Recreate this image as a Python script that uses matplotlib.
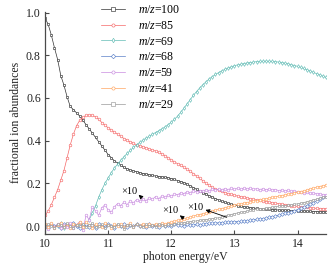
import numpy as np
import matplotlib
matplotlib.use("Agg")
import matplotlib.pyplot as plt

plt.rcParams['font.family'] = ['Liberation Serif', 'DejaVu Serif']
plt.rcParams['mathtext.fontset'] = 'custom'
plt.rcParams['mathtext.rm'] = 'Liberation Serif'
plt.rcParams['mathtext.it'] = 'Liberation Serif:italic'

# photon energy grid (eV)
energy = np.round(np.arange(10.0, 14.451, 0.05), 2)

labels = ["100", "85", "69", "68", "59", "41", "29"]

mz100 = [0.975, 0.945, 0.895, 0.835, 0.780, 0.705, 0.660, 0.605, 0.560, 0.545,
         0.530, 0.515, 0.495, 0.475, 0.455, 0.435, 0.415, 0.395, 0.375, 0.355,
         0.335, 0.320, 0.305, 0.295, 0.285, 0.275, 0.268, 0.262, 0.258, 0.254,
         0.250, 0.246, 0.243, 0.240, 0.237, 0.234, 0.232, 0.230, 0.228, 0.226,
         0.222, 0.218, 0.213, 0.208, 0.203, 0.196, 0.188, 0.180, 0.172, 0.165,
         0.157, 0.150, 0.142, 0.135, 0.128, 0.122, 0.116, 0.111, 0.106, 0.102,
         0.099, 0.096, 0.093, 0.090, 0.088, 0.086, 0.084, 0.083, 0.082, 0.080,
         0.079, 0.078, 0.077, 0.076, 0.075, 0.074, 0.074, 0.073, 0.072, 0.072,
         0.071, 0.070, 0.070, 0.069, 0.069, 0.068, 0.068, 0.067, 0.067, 0.066]

mz85 = [0.050, 0.070, 0.100, 0.135, 0.170, 0.215, 0.260, 0.320, 0.380, 0.430,
        0.470, 0.495, 0.510, 0.518, 0.520, 0.518, 0.512, 0.500, 0.485, 0.472,
        0.460, 0.450, 0.440, 0.430, 0.420, 0.410, 0.402, 0.394, 0.387, 0.381,
        0.376, 0.371, 0.366, 0.361, 0.356, 0.351, 0.345, 0.338, 0.330, 0.320,
        0.310, 0.300, 0.292, 0.284, 0.275, 0.266, 0.256, 0.245, 0.234, 0.223,
        0.212, 0.200, 0.190, 0.181, 0.174, 0.168, 0.162, 0.157, 0.152, 0.148,
        0.144, 0.140, 0.137, 0.134, 0.131, 0.128, 0.125, 0.122, 0.120, 0.117,
        0.114, 0.112, 0.109, 0.106, 0.104, 0.102, 0.100, 0.098, 0.096, 0.094,
        0.092, 0.090, 0.088, 0.087, 0.085, 0.084, 0.083, 0.082, 0.081, 0.080]

mz69 = [0.005, -0.010, 0.010, -0.005, 0.000, 0.012, -0.008, 0.004, -0.006, 0.008,
        0.002, 0.010, -0.004, 0.005, 0.030, 0.060, 0.095, 0.135, 0.170, 0.200,
        0.225, 0.250, 0.272, 0.290, 0.308, 0.324, 0.340, 0.354, 0.368, 0.380,
        0.392, 0.402, 0.412, 0.420, 0.430, 0.438, 0.446, 0.455, 0.464, 0.475,
        0.487, 0.500, 0.515, 0.533, 0.552, 0.572, 0.592, 0.612, 0.630, 0.647,
        0.662, 0.676, 0.689, 0.700, 0.710, 0.719, 0.727, 0.734, 0.740, 0.746,
        0.751, 0.755, 0.758, 0.761, 0.764, 0.766, 0.768, 0.770, 0.771, 0.772,
        0.772, 0.772, 0.771, 0.770, 0.768, 0.766, 0.763, 0.760, 0.756, 0.752,
        0.748, 0.743, 0.738, 0.732, 0.726, 0.720, 0.714, 0.708, 0.702, 0.696]

mz68 = [0.004, -0.008, 0.010, -0.002, 0.006, -0.010, 0.008, 0.000, -0.006, 0.012,
        0.002, -0.008, 0.006, 0.010, -0.004, 0.004, -0.010, 0.008, 0.002, -0.006,
        0.010, 0.000, -0.008, 0.006, 0.002, 0.010, -0.004, 0.006, -0.002, 0.008,
        0.000, 0.006, -0.006, 0.010, 0.002, 0.004, -0.004, 0.008, 0.002, 0.006,
        0.000, 0.008, 0.004, 0.006, 0.002, 0.008, 0.004, 0.006, 0.008, 0.006,
        0.008, 0.010, 0.012, 0.013, 0.014, 0.015, 0.016, 0.017, 0.018, 0.019,
        0.020, 0.021, 0.022, 0.023, 0.025, 0.027, 0.029, 0.031, 0.033, 0.035,
        0.038, 0.041, 0.044, 0.047, 0.051, 0.055, 0.059, 0.063, 0.067, 0.072,
        0.077, 0.083, 0.089, 0.096, 0.103, 0.110, 0.118, 0.126, 0.134, 0.142]

mz59 = [0.000, -0.012, 0.008, -0.006, 0.010, -0.010, 0.005, -0.004, 0.012, -0.008,
        0.006, 0.020, -0.020, 0.050, 0.030, 0.090, 0.070, 0.050, 0.085, 0.100,
        0.075, 0.065, 0.090, 0.105, 0.095, 0.112, 0.100, 0.118, 0.108, 0.124,
        0.115, 0.128, 0.118, 0.132, 0.125, 0.138, 0.128, 0.140, 0.135, 0.145,
        0.140, 0.150, 0.146, 0.156, 0.152, 0.160, 0.157, 0.164, 0.160, 0.166,
        0.163, 0.170, 0.166, 0.172, 0.168, 0.174, 0.170, 0.175, 0.171, 0.176,
        0.172, 0.176, 0.172, 0.177, 0.173, 0.176, 0.172, 0.175, 0.171, 0.174,
        0.170, 0.173, 0.168, 0.171, 0.166, 0.169, 0.164, 0.167, 0.162, 0.164,
        0.159, 0.161, 0.156, 0.158, 0.153, 0.154, 0.150, 0.151, 0.147, 0.145]

mz41 = [0.010, -0.005, 0.012, -0.008, 0.006, 0.015, -0.004, 0.008, -0.010, 0.010,
        0.004, 0.018, -0.006, 0.020, 0.005, -0.008, 0.010, 0.002, -0.006, 0.012,
        0.004, -0.008, 0.008, 0.000, 0.010, -0.005, 0.006, 0.012, -0.004, 0.008,
        0.002, 0.010, -0.002, 0.008, 0.004, 0.010, 0.006, 0.012, 0.010, 0.015,
        0.018, 0.022, 0.026, 0.030, 0.034, 0.038, 0.042, 0.046, 0.050, 0.054,
        0.058, 0.062, 0.066, 0.070, 0.074, 0.078, 0.082, 0.086, 0.090, 0.094,
        0.098, 0.101, 0.104, 0.107, 0.110, 0.113, 0.116, 0.119, 0.122, 0.125,
        0.128, 0.131, 0.134, 0.137, 0.140, 0.143, 0.146, 0.149, 0.152, 0.155,
        0.158, 0.161, 0.165, 0.169, 0.173, 0.177, 0.181, 0.185, 0.189, 0.192]

mz29 = [-0.006, 0.010, 0.002, -0.010, 0.008, 0.004, -0.006, 0.012, 0.000, -0.008,
        0.006, -0.002, 0.010, -0.006, 0.004, 0.012, -0.004, 0.000, 0.008, -0.010,
        0.006, 0.002, -0.006, 0.010, 0.000, -0.012, 0.006, 0.004, -0.004, 0.010,
        0.002, -0.006, 0.008, 0.000, 0.006, -0.004, 0.010, 0.004, 0.000, 0.008,
        0.006, 0.010, 0.012, 0.014, 0.016, 0.018, 0.020, 0.022, 0.024, 0.026,
        0.028, 0.030, 0.032, 0.034, 0.036, 0.039, 0.042, 0.046, 0.050, 0.054,
        0.058, 0.061, 0.064, 0.067, 0.070, 0.073, 0.076, 0.078, 0.080, 0.082,
        0.084, 0.086, 0.088, 0.090, 0.092, 0.094, 0.096, 0.098, 0.100, 0.102,
        0.104, 0.107, 0.110, 0.114, 0.118, 0.122, 0.126, 0.130, 0.134, 0.137]

series = [mz100, mz85, mz69, mz68, mz59, mz41, mz29]
colors = ["#333333", "#f56868", "#62bcb5", "#5b80c8", "#c98be0", "#ffa560", "#9a9a9a"]
markers = ["s", "o", "d", "D", "o", "o", "s"]

fig = plt.figure(figsize=(3.32, 2.67), dpi=100)
ax = fig.add_axes([45/332, 1-233.5/267, 281/332, 222/267])

for vals, lab, c, m in zip(series, labels, colors, markers):
    ax.plot(energy, vals, color=c, lw=0.5, marker=m, ms=1.9, mfc='white',
            mec=c, mew=0.45, label=r'$m/z$=' + lab)

ax.set_xlim(10, 14.45)
ax.set_ylim(-0.035, 1.005)
ax.set_xticks([10, 11, 12, 13, 14])
ax.set_yticks([0.0, 0.2, 0.4, 0.6, 0.8, 1.0])
ax.set_yticklabels(["0.0", "0.2", "0.4", "0.6", "0.8", "1.0"])

for s in ["top", "right"]:
    ax.spines[s].set_visible(False)
for s in ["left", "bottom"]:
    ax.spines[s].set_color("#4a4a4a")
    ax.spines[s].set_linewidth(0.9)
ax.tick_params(direction='in', length=3, width=0.8, color="#4a4a4a",
               labelsize=8.5, labelcolor="#222222", pad=3)

ax.set_xlabel("photon energy/eV", fontsize=8.5, color="#222222", labelpad=1)
ax.set_ylabel("fractional ion abundances", fontsize=8.5, color="#222222", labelpad=3)

leg = ax.legend(loc='upper left', bbox_to_anchor=(101/332, 1-4/267),
                bbox_transform=fig.transFigure, frameon=False, fontsize=8.5,
                handlelength=2.0, handletextpad=1.1, labelspacing=0.32,
                borderpad=0, borderaxespad=0, markerscale=1.2)

arrow_kw = dict(arrowstyle='-|>', color='black', lw=0.6, mutation_scale=6)
ax.text(11.33, 0.163, "×10", fontsize=7.5, ha='center', va='center')
ax.annotate('', xy=(11.45, 0.155), xytext=(11.55, 0.128), arrowprops=arrow_kw)
ax.text(11.99, 0.075, "×10", fontsize=7.5, ha='center', va='center')
ax.annotate('', xy=(12.1, 0.058), xytext=(12.23, 0.028), arrowprops=arrow_kw)
ax.text(12.38, 0.088, "×10", fontsize=7.5, ha='center', va='center')
ax.annotate('', xy=(12.5, 0.08), xytext=(12.92, 0.037), arrowprops=arrow_kw)

fig.savefig("out.png", dpi=100)
